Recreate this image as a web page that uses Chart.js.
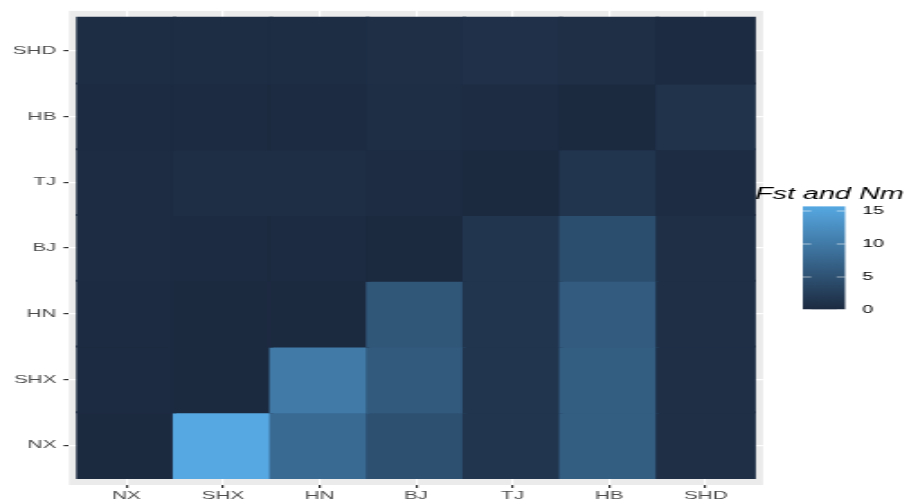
<!DOCTYPE html>
<html>
<head>
<meta charset="utf-8">
<script src="https://cdn.jsdelivr.net/npm/chart.js@4.4.0/dist/chart.umd.min.js"></script>
<style>
  html, body { margin: 0; padding: 0; background: #fff; overflow: hidden; }
  /* the plot is laid out narrow and stretched sideways */
  #wrap { width: 505px; height: 501px; transform: scaleX(1.8); transform-origin: 0 0; }
</style>
</head>
<body>
<div id="wrap"><canvas id="heat"></canvas></div>
<script>
var populations = ["NX", "SHX", "HN", "BJ", "TJ", "HB", "SHD"];

// one row per population (bottom to top), one value per column population
var rowNX  = [0.1, 15.7, 8.0, 4.8, 1.4, 6.4, 0.7];
var rowSHX = [0.2, 0.1, 10.0, 6.0, 1.4, 6.4, 0.7];
var rowHN  = [0.2, 0.1, 0.1, 5.5, 1.4, 6.2, 0.7];
var rowBJ  = [0.3, 0.2, 0.2, 0.1, 1.4, 4.5, 0.7];
var rowTJ  = [0.4, 0.6, 0.6, 0.4, 0.1, 1.4, 0.3];
var rowHB  = [0.2, 0.2, 0.2, 0.6, 0.4, 0.1, 1.2];
var rowSHD = [0.5, 0.5, 0.5, 0.7, 0.9, 0.7, 0.2];

var legendTicks = [0, 5, 10, 15];

var rows = [rowNX, rowSHX, rowHN, rowBJ, rowTJ, rowHB, rowSHD];
var all = [].concat.apply([], rows);
var vmin = Math.min.apply(null, all);
var vmax = Math.max.apply(null, all);

var low = [28, 42, 64], high = [86, 168, 226];

function rgb(c) { return "rgb(" + c.map(Math.round).join(",") + ")"; }
function shade(v) {
    var t = (v - vmin) / (vmax - vmin);
    return rgb(low.map(function (l, i) { return l + (high[i] - l) * t; }));
}

var cells = [], colours = [];
rows.forEach(function (row, r) {
    row.forEach(function (v, c) {
        cells.push({x: c, y: [r - 0.5, r + 0.5], v: v});
        colours.push(shade(v));
    });
});

var panel = {
    id: "panel",
    beforeDraw: function (chart) {
        var a = chart.chartArea, ctx = chart.ctx;
        ctx.save();
        ctx.fillStyle = "#fff";
        ctx.fillRect(0, 0, chart.width, chart.height);
        ctx.fillStyle = "#EBEBEB";
        ctx.fillRect(a.left, a.top, a.right - a.left, a.bottom - a.top);
        ctx.restore();
    }
};

var colorbar = {
    id: "colorbar",
    afterDraw: function (chart) {
        var ctx = chart.ctx;
        var x0 = 446, w = 23.5;
        function yOf(v) { return 310 - v * 6.6; }
        var top = yOf(vmax), bottom = yOf(vmin);
        var grad = ctx.createLinearGradient(0, bottom, 0, top);
        grad.addColorStop(0, rgb(low));
        grad.addColorStop(1, rgb(high));
        ctx.save();
        ctx.fillStyle = grad;
        ctx.fillRect(x0, top, w, bottom - top);

        ctx.strokeStyle = "rgba(255,255,255,0.55)";
        ctx.lineWidth = 1;
        ctx.fillStyle = "#000";
        ctx.font = "11px 'Liberation Sans'";
        ctx.textBaseline = "middle";
        legendTicks.forEach(function (v) {
            var y = yOf(v);
            ctx.beginPath();
            ctx.moveTo(x0, y); ctx.lineTo(x0 + w / 5, y);
            ctx.moveTo(x0 + w * 4 / 5, y); ctx.lineTo(x0 + w, y);
            ctx.stroke();
            ctx.fillText(String(v), x0 + w + 9.5, y);
        });

        ctx.font = "italic 16px 'Liberation Sans'";
        ctx.textBaseline = "alphabetic";
        ctx.fillText("Fst and Nm", 419.4, 199);
        ctx.restore();
    }
};

var tickFont = {family: "'Liberation Sans', Arial, sans-serif", size: 11.5};

new Chart(document.getElementById("heat"), {
    type: "bar",
    data: {
        datasets: [{
            data: cells,
            backgroundColor: colours,
            borderWidth: 0,
            inflateAmount: 1,
            barPercentage: 1,
            categoryPercentage: 1
        }]
    },
    options: {
        responsive: true,
        maintainAspectRatio: false,
        animation: false,
        layout: {padding: {top: 10, right: 81.1, bottom: 0, left: 0}},
        plugins: {legend: {display: false}, tooltip: {enabled: false}},
        scales: {
            x: {
                type: "linear",
                min: -0.593,
                max: 6.593,
                offset: false,
                afterFit: function (s) { s.height = 16; },
                afterBuildTicks: function (s) {
                    s.ticks = populations.map(function (p, i) { return {value: i}; });
                },
                ticks: {
                    color: "#4D4D4D",
                    font: tickFont,
                    padding: 1,
                    maxRotation: 0,
                    callback: function (v) { return populations[v]; }
                },
                grid: {color: "#fff", lineWidth: 1.2, tickColor: "#333", tickLength: 3, offset: false},
                border: {display: false}
            },
            y: {
                type: "linear",
                min: -0.606,
                max: 6.606,
                afterFit: function (s) { s.width = 38.3; },
                afterBuildTicks: function (s) {
                    s.ticks = populations.map(function (p, i) { return {value: i}; });
                },
                ticks: {
                    color: "#4D4D4D",
                    font: tickFont,
                    padding: 4,
                    callback: function (v) { return populations[v]; }
                },
                grid: {color: "#fff", lineWidth: 1.2, tickColor: "#333", tickLength: 3},
                border: {display: false}
            }
        }
    },
    plugins: [panel, colorbar]
});
</script>
</body>
</html>
